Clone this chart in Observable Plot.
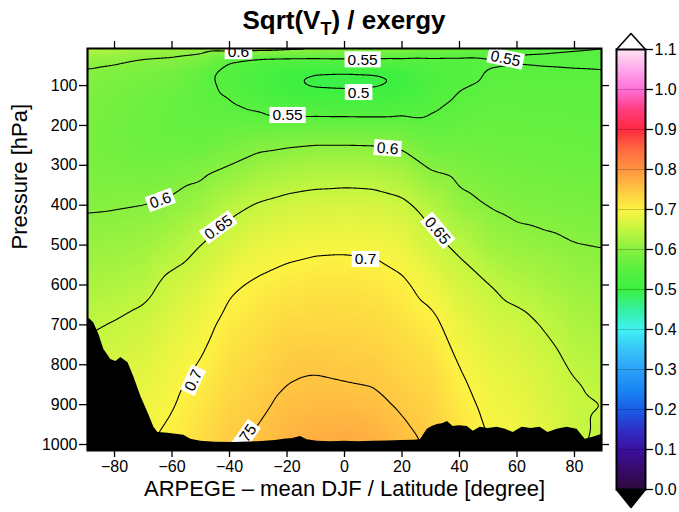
<!DOCTYPE html>
<html><head><meta charset="utf-8">
<script src="https://cdn.jsdelivr.net/npm/d3@7"></script>
<script src="https://cdn.jsdelivr.net/npm/@observablehq/plot@0.6"></script>
<style>
html,body{margin:0;padding:0;background:#fff;}
#wrap{position:relative;width:679px;height:512px;overflow:hidden;font-family:"Liberation Sans",Arial,sans-serif;}
#main{position:absolute;left:0;top:0;}
#cbar{position:absolute;left:604px;top:0;}
#title{position:absolute;left:87px;width:514px;top:7px;text-align:center;font-weight:bold;font-size:26px;line-height:26px;white-space:nowrap;}
#title .sub{font-size:18px;position:relative;top:6px;}
</style></head><body>
<div id="wrap"><div id="main"></div><div id="cbar"></div><div id="title">Sqrt(V<span class="sub">T</span>) / exergy</div></div>
<script>
// ---- data ----
const lats = [-89.4,-80,-70,-60,-50,-40,-30,-20,-10,0,10,20,30,40,50,60,70,80,89.4];
const levels = [7,30,50,75,100,150,200,250,300,400,500,600,700,800,850,900,950,1000,1015];
// one row per latitude, values at each pressure level
const field = [
 [0.640,0.612,0.603,0.595,0.590,0.585,0.583,0.583,0.586,0.597,0.612,0.628,0.646,0.660,0.666,0.672,0.677,0.682,0.684],
 [0.635,0.608,0.599,0.590,0.585,0.580,0.578,0.578,0.582,0.598,0.615,0.633,0.652,0.667,0.673,0.679,0.684,0.688,0.690],
 [0.625,0.601,0.592,0.583,0.578,0.572,0.570,0.572,0.578,0.600,0.620,0.640,0.660,0.675,0.681,0.687,0.692,0.696,0.697],
 [0.620,0.598,0.588,0.578,0.572,0.566,0.565,0.570,0.582,0.606,0.633,0.660,0.676,0.689,0.694,0.698,0.703,0.708,0.710],
 [0.615,0.590,0.572,0.558,0.558,0.560,0.563,0.568,0.588,0.618,0.650,0.672,0.689,0.702,0.708,0.714,0.720,0.725,0.727],
 [0.625,0.560,0.545,0.541,0.544,0.553,0.566,0.582,0.600,0.640,0.668,0.695,0.710,0.722,0.728,0.734,0.740,0.745,0.747],
 [0.625,0.550,0.535,0.527,0.527,0.544,0.565,0.593,0.613,0.653,0.682,0.705,0.720,0.733,0.739,0.744,0.750,0.755,0.757],
 [0.620,0.550,0.524,0.505,0.505,0.532,0.565,0.597,0.622,0.661,0.690,0.712,0.730,0.746,0.750,0.757,0.763,0.768,0.770],
 [0.615,0.550,0.520,0.496,0.496,0.531,0.566,0.601,0.626,0.666,0.694,0.716,0.732,0.747,0.753,0.760,0.768,0.775,0.777],
 [0.612,0.553,0.520,0.494,0.494,0.530,0.566,0.601,0.627,0.668,0.695,0.716,0.731,0.745,0.751,0.760,0.770,0.780,0.782],
 [0.608,0.553,0.521,0.496,0.496,0.530,0.565,0.600,0.626,0.666,0.694,0.714,0.729,0.743,0.749,0.757,0.766,0.775,0.777],
 [0.600,0.550,0.530,0.503,0.504,0.535,0.565,0.595,0.618,0.658,0.686,0.705,0.720,0.733,0.739,0.746,0.753,0.760,0.762],
 [0.580,0.549,0.540,0.533,0.534,0.545,0.557,0.575,0.595,0.636,0.660,0.688,0.709,0.724,0.730,0.735,0.740,0.745,0.747],
 [0.575,0.548,0.542,0.540,0.548,0.556,0.565,0.575,0.587,0.610,0.643,0.666,0.684,0.699,0.705,0.710,0.715,0.720,0.722],
 [0.565,0.549,0.549,0.552,0.555,0.561,0.566,0.572,0.580,0.599,0.622,0.651,0.669,0.683,0.688,0.693,0.697,0.700,0.701],
 [0.556,0.547,0.551,0.554,0.557,0.561,0.565,0.570,0.576,0.591,0.612,0.637,0.661,0.674,0.679,0.684,0.688,0.690,0.691],
 [0.555,0.546,0.550,0.553,0.556,0.560,0.564,0.569,0.574,0.588,0.607,0.627,0.647,0.662,0.667,0.671,0.674,0.676,0.677],
 [0.553,0.545,0.549,0.553,0.556,0.559,0.563,0.567,0.572,0.585,0.601,0.617,0.632,0.645,0.652,0.655,0.656,0.656,0.656],
 [0.552,0.544,0.548,0.553,0.556,0.559,0.562,0.566,0.571,0.583,0.599,0.613,0.626,0.638,0.644,0.650,0.646,0.642,0.641]
];
const terrainLat = [-89.4,-88.5,-87.2,-85.4,-83.7,-81.3,-79.5,-77.8,-75.3,-73.3,-70.8,-68.4,-66.3,-64.9,-61.5,-58,-55.9,-53.5,-50,-45,-38.5,-30,-24,-21,-18,-15.3,-13,-9.4,-5,0,5,10,15,20,24,26.4,28.8,30.5,32.3,34,35.8,37.8,40,42.7,44.8,47.2,50,53.1,56,58.7,61.8,65,68,70.8,74,77.4,80.9,83.7,86.5,89.4];
const terrainP = [683,686,695,725,762,787,792,782,795,830,880,920,957,970,972,975,977,987,992,994,995,993,990,987,985,980,988,992,993,992,993,992,991,990,989,988,962,955,950,948,942,955,953,955,967,957,960,957,962,970,957,960,957,970,962,957,962,987,982,975];
const pBottom = 1015;
const contourLevels = [0.5,0.55,0.6,0.65,0.7,0.75];
const labelText = ["0.6","0.55","0.55","0.5","0.55","0.6","0.6","0.65","0.65","0.7","0.7","0.75"];
const labelLat  = [-36.9, 6.3, 56, 4.9, -19.8, 15, -64, -43.8, 32.3, 7.3, -52.5, -34.8];
const labelP    = [15, 35.6, 32.5, 117.6, 175, 258, 388, 456, 464, 536, 839, 985];
const labelAngle = [0, 0, 12, 0, 0, 4, -20, -36, 50, 0, -65, -55];
const xTicks = [-80,-60,-40,-20,0,20,40,60,80];
const yTicks = [100,200,300,400,500,600,700,800,900,1000];
const cbarTicks = [0,0.1,0.2,0.3,0.4,0.5,0.6,0.7,0.8,0.9,1.0,1.1];
const colorVals = [0.0,0.05,0.1,0.15,0.2,0.25,0.3,0.35,0.4,0.45,0.5,0.55,0.6,0.65,0.7,0.75,0.8,0.85,0.9,0.95,1.0,1.05,1.1];
const colorHex = ["#2c0a3c","#380a6a","#3a10a0","#2e30c8","#1a5ee8","#1a86f4","#2ca2f8","#38c4f8","#40f2f4","#34f0a0","#3cf040","#58f040","#88f040","#c4f640","#fcf442","#ffc642","#ff9440","#ff6a40","#ff2a40","#ff3c80","#ff70d8","#ffa8ec","#ffe4f0"];
const xLabel = "ARPEGE – mean DJF / Latitude [degree]";
const yLabel = "Pressure [hPa]";

// ---- build tables ----
const points = lats.flatMap((lat, i) => levels.map((p, j) => ({lat, p, v: field[i][j]})));
const terrain = terrainLat.map((lat, i) => ({lat, p: terrainP[i]}));
const labels = labelText.map((text, i) => ({text, lat: labelLat[i], p: labelP[i], angle: labelAngle[i]}));

const font = '"Liberation Sans", Arial, sans-serif';
const colorOpts = {type: "linear", domain: colorVals, range: colorHex, interpolate: "rgb"};

const main = Plot.plot({
  width: 679, height: 512,
  marginLeft: 87, marginRight: 78, marginTop: 48, marginBottom: 62,
  style: {fontFamily: font, fontSize: "16px", background: "transparent", color: "black"},
  x: {domain: [lats[0], lats[lats.length - 1]]},
  y: {domain: [levels[0], pBottom], reverse: true},
  color: colorOpts,
  marks: [
    Plot.raster(points, {x: "lat", y: "p", fill: "v", interpolate: "barycentric", pixelSize: 1, blur: 3}),
    Plot.contour(points, {x: "lat", y: "p", value: "v", interpolate: "barycentric", pixelSize: 1, blur: 3,
      thresholds: contourLevels, stroke: "black", strokeWidth: 1.1, fill: "none"}),
    Plot.text(labels, {x: "lat", y: "p", text: "text", rotate: "angle", fontSize: 15.5, fill: "black",
      clip: "frame", className: "clabels"}),
    Plot.areaY(terrain, {x: "lat", y1: "p", y2: pBottom, fill: "black", clip: "frame", curve: "linear"}),
    Plot.frame({stroke: "black", strokeWidth: 2}),
    Plot.axisX(xTicks, {anchor: "bottom", tickSize: 7, tickPadding: 3, fontSize: 16, strokeWidth: 1.3, label: null}),
    Plot.axisX(xTicks, {anchor: "top", tickSize: 8, strokeWidth: 1.3, tickFormat: () => "", label: null}),
    Plot.axisY(yTicks, {anchor: "left", tickSize: 8, tickPadding: 2, fontSize: 16, strokeWidth: 1.3,
      tickFormat: d => String(d), label: null}),
    Plot.axisY(yTicks, {anchor: "right", tickSize: 7, strokeWidth: 1.3, tickFormat: () => "", label: null}),
    Plot.text([xLabel], {text: d => d, frameAnchor: "bottom", dy: 45, fontSize: 22}),
    Plot.text([yLabel], {text: d => d, frameAnchor: "left", dx: -68, rotate: -90, fontSize: 22})
  ]
});
document.getElementById("main").append(main);

// white boxes behind contour labels
const labelSet = new Set(labelText);
let labelNodes = Array.from(main.querySelectorAll("g.clabels text"));
if (!labelNodes.length) labelNodes = Array.from(main.querySelectorAll('g[font-size="15.5"] text'));
labelNodes.filter(t => labelSet.has(t.textContent)).forEach(t => {
  const bb = t.getBBox();
  const r = document.createElementNS("http://www.w3.org/2000/svg", "rect");
  r.setAttribute("x", bb.x - 3);
  r.setAttribute("y", bb.y + 0.5);
  r.setAttribute("width", bb.width + 6);
  r.setAttribute("height", bb.height - 1);
  r.setAttribute("fill", "white");
  const tr = t.getAttribute("transform");
  if (tr) r.setAttribute("transform", tr);
  t.parentNode.insertBefore(r, t);
});

// ---- colour bar ----
const cMin = colorVals[0], cMax = colorVals[colorVals.length - 1];
const topTri = [{x: 0, y: cMax}, {x: 0.5, y: cMax + 0.04}, {x: 1, y: cMax}];
const botTri = [{x: 0, y: cMin}, {x: 0.5, y: cMin - 0.045}, {x: 1, y: cMin}];
const cbar = Plot.plot({
  width: 75, height: 512,
  marginLeft: 12, marginRight: 34, marginTop: 49, marginBottom: 23,
  style: {fontFamily: font, fontSize: "16px", background: "transparent", color: "black", overflow: "visible"},
  x: {domain: [0, 1], axis: null},
  y: {domain: [cMin, cMax], axis: null},
  color: colorOpts,
  marks: [
    Plot.raster({x1: 0, x2: 1, y1: cMin, y2: cMax, fill: (x, y) => y, pixelSize: 1}),
    Plot.ruleY(cbarTicks.slice(1, -1), {stroke: "black", strokeOpacity: 0.22, strokeWidth: 1}),
    Plot.line(topTri, {x: "x", y: "y", fill: "white", stroke: "black", strokeWidth: 1.6}),
    Plot.line(botTri, {x: "x", y: "y", fill: "black", stroke: "black", strokeWidth: 1.6}),
    Plot.frame({stroke: "black", strokeWidth: 2}),
    Plot.axisY(cbarTicks, {anchor: "right", tickSize: 7, tickPadding: 2, fontSize: 16, strokeWidth: 1.3,
      tickFormat: d3.format(".1f"), label: null})
  ]
});
document.getElementById("cbar").append(cbar);
</script></body></html>
